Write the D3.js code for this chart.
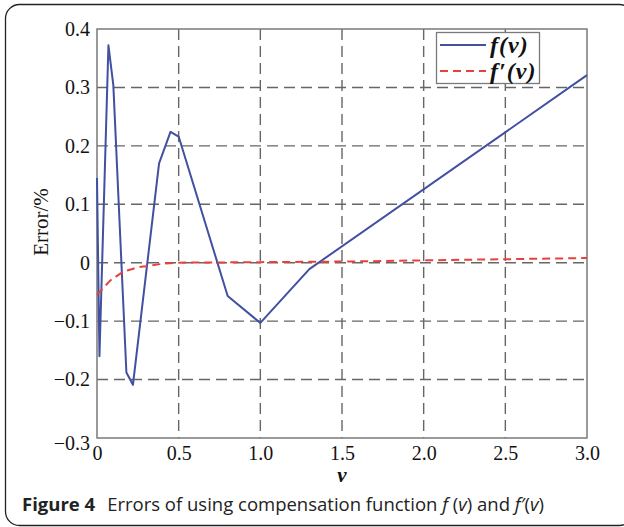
<!DOCTYPE html>
<html>
<head>
<meta charset="utf-8">
<script src="https://cdn.jsdelivr.net/npm/d3@7"></script>
<style>
  html, body { margin: 0; padding: 0; background: #fff; }
  svg { display: block; }
</style>
</head>
<body>
<div id="chart"></div>
<script>
// error curves
const fV = [0, 0.015, 0.07, 0.1, 0.18, 0.22, 0.38, 0.45, 0.5, 0.8, 1.0, 1.3, 3.0];
const fVals = [0.145, -0.16, 0.372, 0.304, -0.188, -0.209, 0.17, 0.224, 0.216, -0.057, -0.103, -0.011, 0.321];

const fpV = [0, 0.02, 0.05, 0.08, 0.12, 0.16, 0.2, 0.25, 0.3, 0.4, 0.5, 0.75, 1.0, 1.5, 2.0, 2.5, 3.0];
const fpVals = [-0.055, -0.049, -0.040, -0.031, -0.023, -0.016, -0.012, -0.008, -0.006, -0.002, 0.0, 0.0005, 0.001, 0.002, 0.004, 0.006, 0.008];

const xTicks = [0, 0.5, 1.0, 1.5, 2.0, 2.5, 3.0];
const yTicks = [-0.3, -0.2, -0.1, 0, 0.1, 0.2, 0.3, 0.4];

const W = 624, H = 527;
const plot = { left: 97, top: 29, right: 587, bottom: 438 };
const SERIF = '"Liberation Serif", "Times New Roman", serif';
const SANS = '"Open Sans", "Noto Sans", sans-serif';
const BLUE = '#4150a0';
const RED = '#e8413c';

const svg = d3.select('#chart').append('svg')
  .attr('width', W)
  .attr('height', H);

// rounded figure frame
svg.append('rect')
  .attr('x', 5.5).attr('y', 4.5)
  .attr('width', 628).attr('height', 521)
  .attr('rx', 14)
  .attr('fill', '#fff')
  .attr('stroke', '#222')
  .attr('stroke-width', 1.3);

const x = d3.scaleLinear().domain([0, 3]).range([plot.left, plot.right]);
const y = d3.scaleLinear().domain([-0.3, 0.4]).range([plot.bottom, plot.top]);

const fmt = d => d === 0 ? '0' : d3.format('.1f')(d).replace('-', '\u2212');

// dashed grid
const grid = svg.append('g');
grid.selectAll('line.gx')
  .data(xTicks.filter(d => d > 0 && d < 3))
  .enter().append('line')
  .attr('x1', d => x(d)).attr('x2', d => x(d))
  .attr('y1', plot.top).attr('y2', plot.bottom);
grid.selectAll('line.gy')
  .data(yTicks.filter(d => d > -0.3 && d < 0.4))
  .enter().append('line')
  .attr('x1', plot.left).attr('x2', plot.right)
  .attr('y1', d => y(d)).attr('y2', d => y(d));
grid.selectAll('line')
  .attr('stroke', '#666')
  .attr('stroke-width', 1.4)
  .attr('stroke-dasharray', '11,6');

// axes (labels only, box drawn separately)
const xAxis = svg.append('g')
  .attr('transform', `translate(0,${plot.bottom})`)
  .call(d3.axisBottom(x).tickValues(xTicks).tickFormat(fmt).tickSize(0).tickPadding(8));
const yAxis = svg.append('g')
  .attr('transform', `translate(${plot.left},0)`)
  .call(d3.axisLeft(y).tickValues(yTicks).tickFormat(fmt).tickSize(0).tickPadding(7));
[xAxis, yAxis].forEach(a => {
  a.select('.domain').remove();
  a.selectAll('text')
    .attr('fill', '#111')
    .style('font-family', SERIF)
    .style('font-size', '20px');
});
yAxis.selectAll('.tick')
  .filter(d => d === -0.3)
  .select('text').attr('dy', '0.55em');

svg.append('rect')
  .attr('x', plot.left).attr('y', plot.top)
  .attr('width', plot.right - plot.left)
  .attr('height', plot.bottom - plot.top)
  .attr('fill', 'none')
  .attr('stroke', '#7a7a7a')
  .attr('stroke-width', 1.5);

// series
const fLine = d3.line()
  .x((d, i) => x(fV[i]))
  .y(d => y(d));
svg.append('path')
  .datum(fVals)
  .attr('d', fLine)
  .attr('fill', 'none')
  .attr('stroke', BLUE)
  .attr('stroke-width', 2)
  .attr('stroke-linejoin', 'round');

const fpLine = d3.line()
  .x((d, i) => x(fpV[i]))
  .y(d => y(d))
  .curve(d3.curveMonotoneX);
svg.append('path')
  .datum(fpVals)
  .attr('d', fpLine)
  .attr('fill', 'none')
  .attr('stroke', RED)
  .attr('stroke-width', 2)
  .attr('stroke-dasharray', '8,5');

// axis titles
svg.append('text')
  .attr('transform', 'translate(48,222) rotate(-90)')
  .attr('text-anchor', 'middle')
  .style('font-family', SERIF)
  .style('font-size', '21px')
  .attr('fill', '#111')
  .text('Error/%');

svg.append('text')
  .attr('x', x(1.5)).attr('y', 482)
  .attr('text-anchor', 'middle')
  .style('font-family', SERIF)
  .style('font-size', '21px')
  .style('font-weight', 'bold')
  .style('font-style', 'italic')
  .attr('fill', '#111')
  .text('v');

// legend
const legend = svg.append('g');
legend.append('rect')
  .attr('x', 436.5).attr('y', 32.5)
  .attr('width', 103).attr('height', 51)
  .attr('fill', '#fff')
  .attr('stroke', '#7a7a7a')
  .attr('stroke-width', 1.3);
const legendItems = [
  { label: "f(v)", color: BLUE, dash: null, y: 45 },
  { label: "f\u2032(v)", color: RED, dash: '8,5', y: 71 }
];
legend.selectAll('line')
  .data(legendItems)
  .enter().append('line')
  .attr('x1', 440).attr('x2', 486)
  .attr('y1', d => d.y).attr('y2', d => d.y)
  .attr('stroke', d => d.color)
  .attr('stroke-width', 2)
  .attr('stroke-dasharray', d => d.dash);
legend.selectAll('text')
  .data(legendItems)
  .enter().append('text')
  .attr('x', 490).attr('y', d => d.y + 8)
  .style('font-family', SERIF)
  .style('font-size', '24px')
  .style('font-weight', 'bold')
  .style('font-style', 'italic')
  .style('letter-spacing', '1px')
  .attr('fill', '#111')
  .text(d => d.label);

// caption
const cap = svg.append('text')
  .attr('x', 22).attr('y', 511)
  .style('font-family', SANS)
  .style('font-size', '18.5px')
  .attr('fill', '#222');
cap.append('tspan').style('font-weight', 'bold').text('Figure 4');
cap.append('tspan').attr('dx', 12).text('Errors of using compensation function ');
cap.append('tspan').style('font-style', 'italic').text('f');
cap.append('tspan').text(' (');
cap.append('tspan').style('font-style', 'italic').text('v');
cap.append('tspan').text(') and ');
cap.append('tspan').style('font-style', 'italic').text('f\u2032');
cap.append('tspan').text('(');
cap.append('tspan').style('font-style', 'italic').text('v');
cap.append('tspan').text(')');
</script>
</body>
</html>
